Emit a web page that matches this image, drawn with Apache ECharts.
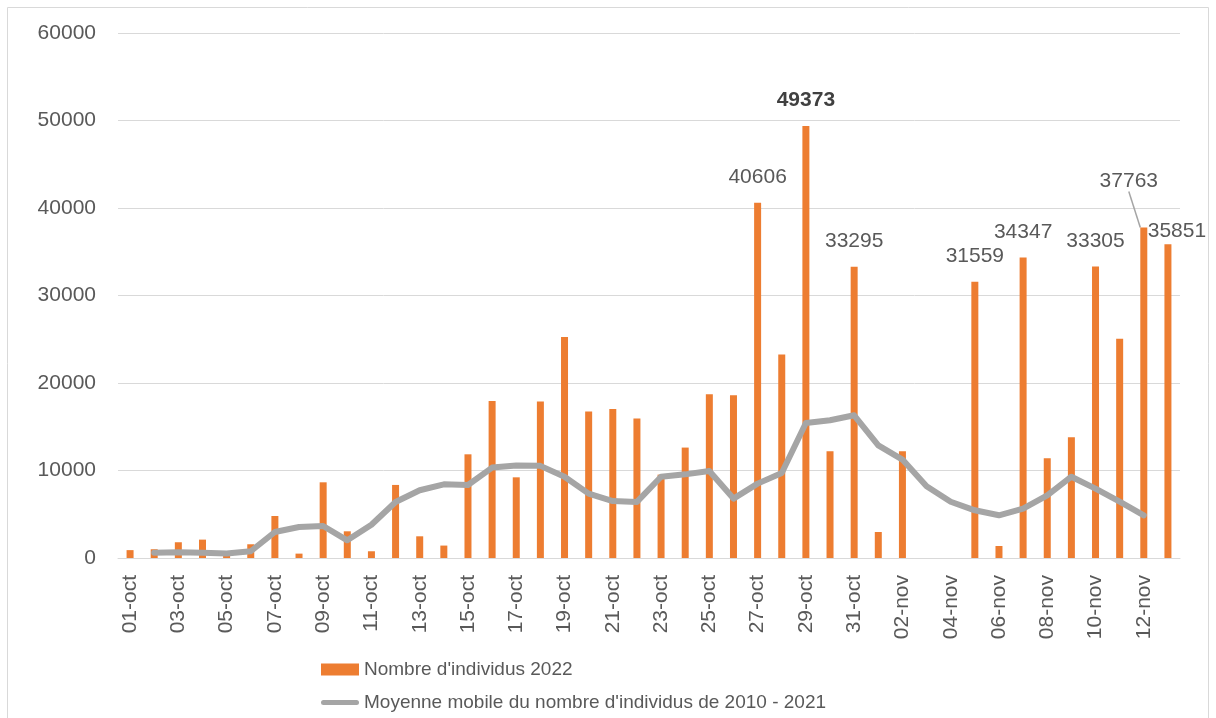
<!DOCTYPE html>
<html>
<head>
<meta charset="utf-8">
<script src="https://cdn.jsdelivr.net/npm/echarts@6/dist/echarts.min.js"></script>
<style>
  html, body { margin: 0; padding: 0; background: #fff; }
  #chart { width: 1216px; height: 718px; }
</style>
</head>
<body>
<div id="chart"></div>
<script>
// jours du 01-oct au 13-nov
const days = [
  '01-oct','02-oct','03-oct','04-oct','05-oct','06-oct','07-oct','08-oct','09-oct','10-oct',
  '11-oct','12-oct','13-oct','14-oct','15-oct','16-oct','17-oct','18-oct','19-oct','20-oct',
  '21-oct','22-oct','23-oct','24-oct','25-oct','26-oct','27-oct','28-oct','29-oct','30-oct',
  '31-oct','01-nov','02-nov','03-nov','04-nov','05-nov','06-nov','07-nov','08-nov','09-nov',
  '10-nov','11-nov','12-nov','13-nov'
];

// Nombre d'individus 2022
const counts2022 = [
  900, 1000, 1800, 2100, 450, 1570, 4800, 500, 8650, 3050,
  770, 8350, 2480, 1420, 11850, 17940, 9220, 17900, 25250, 16730,
  17030, 15930, 9530, 12620, 18710, 18600, 40606, 23250, 49373, 12200,
  33295, 2970, 12200, null, null, 31559, 1370, 34347, 11400, 13800,
  33305, 25070, 37763, 35851
];

// Moyenne mobile 2010 - 2021
const movingAvg = [
  null, 600, 650, 600, 520, 770, 2970, 3540, 3660, 2020,
  3800, 6400, 7740, 8420, 8340, 10330, 10560, 10530, 9290, 7360,
  6510, 6410, 9290, 9560, 9940, 6790, 8500, 9710, 15430, 15740,
  16310, 12880, 11250, 8190, 6430, 5450, 4880, 5650, 7170, 9290,
  7930, 6430, 4880, null
];

// jours dont la valeur est affichée
const labelledDays = ['27-oct','29-oct','31-oct','05-nov','07-nov','10-nov','12-nov','13-nov'];
const boldDay = '29-oct';
const leaderDay = '12-nov';

const txt = '#595959';
const font = "'Liberation Sans', Arial, sans-serif";

const barData = counts2022.map((v, i) => {
  const d = days[i];
  if (labelledDays.indexOf(d) < 0) return v;
  return {
    value: v,
    label: {
      show: true,
      position: 'top',
      fontSize: 21,
      fontFamily: font,
      color: d === boldDay ? '#404040' : txt,
      fontWeight: d === boldDay ? 'bold' : 'normal'
    },
    labelLine: { show: d === leaderDay }
  };
});

const chart = echarts.init(document.getElementById('chart'));

chart.setOption({
  animation: false,
  textStyle: { fontFamily: font },
  graphic: [{
    type: 'rect',
    shape: { x: 7.5, y: 7.5, width: 1201, height: 730 },
    style: { fill: 'none', stroke: '#d9d9d9', lineWidth: 1 },
    silent: true
  }],
  grid: { left: 118, right: 36, top: 33, bottom: 160 },
  legend: {
    orient: 'vertical',
    left: 316,
    top: 655,
    itemWidth: 38,
    itemHeight: 12,
    itemGap: 14,
    textStyle: { fontSize: 19, color: txt, fontFamily: font },
    data: [
      { name: "Nombre d'individus 2022", icon: 'rect' },
      {
        name: "Moyenne mobile du nombre d'individus de 2010 - 2021",
        icon: 'path://M0,0 M38,12 M2.5,3.5 L35.5,3.5 A2.5,2.5 0 0 1 35.5,8.5 L2.5,8.5 A2.5,2.5 0 0 1 2.5,3.5 Z'
      }
    ]
  },
  xAxis: {
    type: 'category',
    data: days,
    axisLine: { lineStyle: { color: '#d9d9d9', width: 1 } },
    axisTick: { show: false },
    axisLabel: {
      interval: 1,
      rotate: 90,
      margin: 17,
      fontSize: 21,
      color: txt,
      fontFamily: font
    }
  },
  yAxis: {
    type: 'value',
    min: 0,
    max: 60000,
    interval: 10000,
    axisLine: { show: false },
    axisTick: { show: false },
    splitLine: { lineStyle: { color: '#d9d9d9', width: 1 } },
    axisLabel: {
      fontSize: 21,
      color: txt,
      margin: 22,
      fontFamily: font,
      formatter: v => String(v)
    }
  },
  series: [
    {
      name: "Nombre d'individus 2022",
      type: 'bar',
      data: barData,
      barWidth: 7,
      itemStyle: { color: '#ed7d31' },
      labelLayout: function (p) {
        const d = days[p.dataIndex];
        if (d === '12-nov') return { dx: -15, dy: -31 };
        if (d === '13-nov') return { dx: 9, dy: 2 };
        return { dy: -10 };
      },
      labelLine: { show: false, lineStyle: { color: '#a5a5a5', width: 1.5 } },
      z: 2
    },
    {
      name: "Moyenne mobile du nombre d'individus de 2010 - 2021",
      type: 'line',
      data: movingAvg,
      showSymbol: false,
      symbol: 'none',
      connectNulls: false,
      lineStyle: { color: '#a5a5a5', width: 6, cap: 'round', join: 'round' },
      itemStyle: { color: '#a5a5a5' },
      z: 3
    }
  ]
});
</script>
</body>
</html>
